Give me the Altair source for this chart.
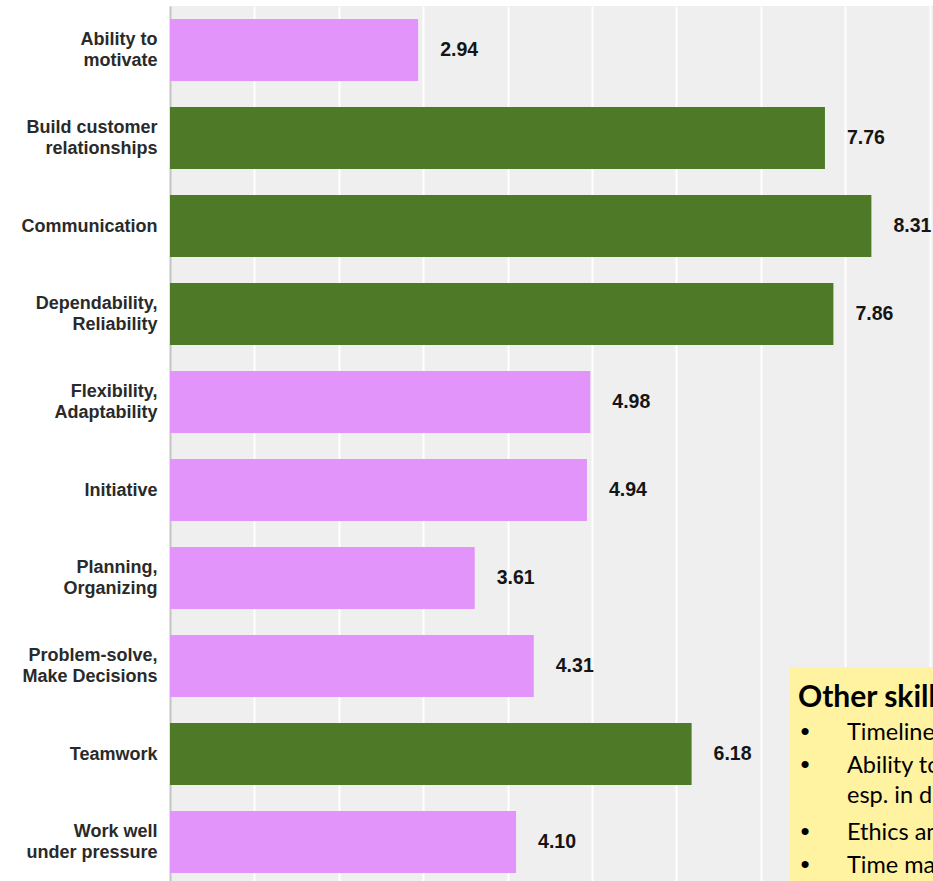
import altair as alt
import pandas as pd

# ---- data ----
categories = [
    "Ability to\nmotivate",
    "Build customer\nrelationships",
    "Communication",
    "Dependability,\nReliability",
    "Flexibility,\nAdaptability",
    "Initiative",
    "Planning,\nOrganizing",
    "Problem-solve,\nMake Decisions",
    "Teamwork",
    "Work well\nunder pressure",
]
scores = [2.94, 7.76, 8.31, 7.86, 4.98, 4.94, 3.61, 4.31, 6.18, 4.10]
groups = ["other", "top", "top", "top", "other", "other", "other", "other", "top", "other"]
grid_ticks = [1, 2, 3, 4, 5, 6, 7, 8, 9]

note_title = "Other skills mentioned:"
note_lines = [
    "Timeliness",
    "Ability to work independently,",
    "esp. in difficult situations",
    "Ethics and integrity",
    "Time management",
]
note_bullet_rows = [0, 1, 3, 4]

df = pd.DataFrame({"category": categories, "score": scores, "group": groups})

PLOT_W, PLOT_H = 763, 875

y_enc = alt.Y(
    "category:N",
    sort=None,
    scale=alt.Scale(paddingInner=0.295, paddingOuter=0.119, align=0.62),
    axis=alt.Axis(
        title=None,
        labelExpr="split(datum.label, '\\n')",
        labelFont="Liberation Sans",
        labelFontWeight="bold",
        labelFontSize=18,
        labelColor="#2a2a2a",
        labelPadding=13,
        labelLineHeight=21,
        labelLimit=0,
        labelOffset=alt.ExprRef("indexof(datum.label, '\\n') >= 0 ? -10 : 1"),
        ticks=False,
        domainColor="#c4c4c4",
        domainWidth=2,
    ),
)
x_enc = alt.X(
    "score:Q",
    scale=alt.Scale(domain=[0, 9.04], nice=False, zero=True),
    axis=alt.Axis(
        title=None,
        labels=False,
        ticks=False,
        domain=False,
        values=grid_ticks,
        gridColor="white",
        gridWidth=2,
    ),
)

base = alt.Chart(df)
bars = base.mark_bar().encode(
    y=y_enc,
    x=x_enc,
    color=alt.Color(
        "group:N",
        scale=alt.Scale(domain=["top", "other"], range=["#4E7A27", "#E294FA"]),
        legend=None,
    ),
)
values = base.mark_text(
    align="left",
    baseline="middle",
    dx=22,
    font="Liberation Sans",
    fontWeight="bold",
    fontSize=19.5,
    color="#151515",
).encode(y=alt.Y("category:N", sort=None), x="score:Q", text=alt.Text("score:Q", format=".2f"))

one = pd.DataFrame({"a": [0]})
box = alt.Chart(one).mark_rect(color="#FFF2A1", clip=True).encode(
    x=alt.value(620), x2=alt.value(PLOT_W), y=alt.value(661), y2=alt.value(PLOT_H)
)
layers = [bars, values, box]
layers.append(
    alt.Chart(one)
    .mark_text(align="left", baseline="alphabetic", font="Lato", fontWeight="bold",
               fontSize=30, color="black", clip=True)
    .encode(x=alt.value(628), y=alt.value(701), text=alt.value(note_title))
)
line_baselines = [734, 767, 797, 834, 867]
for i, line in enumerate(note_lines):
    layers.append(
        alt.Chart(one)
        .mark_text(align="left", baseline="alphabetic", font="Lato", fontSize=23.5,
                   color="black", clip=True)
        .encode(x=alt.value(677), y=alt.value(line_baselines[i]), text=alt.value(line))
    )
    if i in note_bullet_rows:
        layers.append(
            alt.Chart(one)
            .mark_text(align="center", baseline="alphabetic", font="Liberation Sans",
                       fontSize=26, color="black", clip=True)
            .encode(x=alt.value(635), y=alt.value(line_baselines[i]), text=alt.value("•"))
        )

chart = (
    alt.layer(*layers)
    .properties(
        width=PLOT_W,
        height=PLOT_H,
        autosize=alt.AutoSizeParams(type="none"),
        padding={"left": 170, "top": 6, "right": 0, "bottom": 0},
        background="white",
    )
    .configure_view(fill="#EFEFEF", strokeWidth=0)
)

chart.save("out.html", embed_options={"renderer": "svg", "actions": False})
